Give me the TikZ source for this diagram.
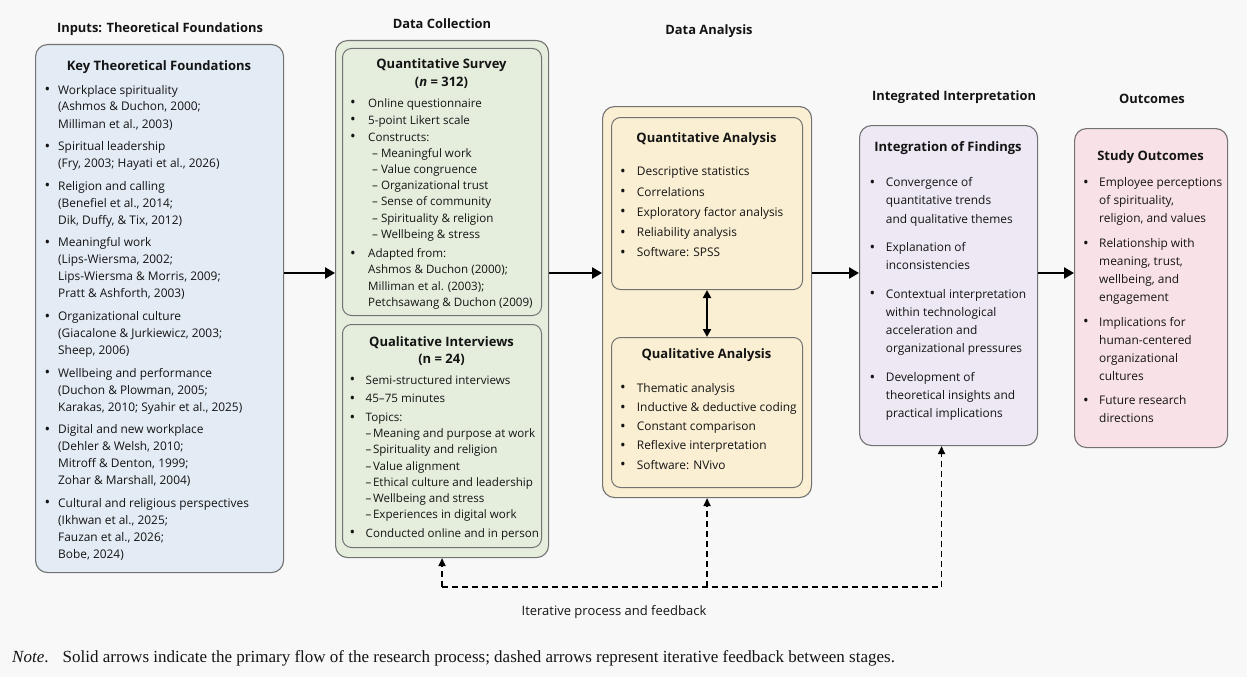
\documentclass[tikz,border=0pt]{standalone}
\usepackage{fontspec}
\setmainfont{Open Sans}
\newfontfamily\notefont{Liberation Serif}
\usetikzlibrary{arrows.meta}

\definecolor{pagebg}{HTML}{F8F8F8}
\definecolor{bluefill}{HTML}{E3EBF4}
\definecolor{greenfill}{HTML}{E5EEDD}
\definecolor{yellowfill}{HTML}{FBEFD3}
\definecolor{lavfill}{HTML}{EDE8F3}
\definecolor{pinkfill}{HTML}{F9E2E7}
\definecolor{edgegray}{HTML}{727272}
\definecolor{inktext}{HTML}{141414}

% bulleted paragraphs with a hanging indent
\newlength\lind
\newcommand\bulletmark{{\fontsize{15}{15}\selectfont\raisebox{-0.6pt}{\textbullet}}}
\newcommand\itm{\par\noindent\hangindent=\lind\hangafter=0\llap{\makebox[\lind][l]{\bulletmark}}}
% #1 font size, #2 indent, #3 line pitch, #4 gap between items, #5 items
\newcommand\blist[5]{\begin{minipage}[t]{240pt}\fontsize{#1}{#3}\selectfont\hyphenpenalty=10000\setlength\lind{#2}\setlength\parskip{#4}#5\end{minipage}}
\newcommand\sub{\hspace*{4pt}-- }
\newcommand\subb{--\hspace{1.5pt}}

\tikzset{
  panel/.style={draw=edgegray, line width=1.1pt, rounded corners=12pt, inner sep=0pt, anchor=north west},
  subpanel/.style={draw=edgegray, line width=1pt, rounded corners=9pt, inner sep=0pt, anchor=north west},
  header/.style={font=\bfseries\fontsize{12.9}{15}\selectfont, text=inktext, anchor=base, inner sep=0pt},
  boxtitle/.style={font=\bfseries\fontsize{13}{15}\selectfont, text=inktext, anchor=base, inner sep=0pt},
  listing/.style={anchor=base west, inner sep=0pt, text=inktext},
  flow/.style={line width=2.6pt, -{Triangle[length=10pt,width=11pt]}},
  twoway/.style={line width=2pt, {Triangle[length=8pt,width=8pt]}-{Triangle[length=8pt,width=8pt]}},
  feedback/.style={line width=1.6pt, dash pattern=on 6pt off 4pt},
  feedbackarrow/.style={feedback, -{Triangle[length=8pt,width=7pt]}}
}

\begin{document}
\begin{tikzpicture}[x=1pt,y=-1pt]
\useasboundingbox[fill=pagebg] (0,0) rectangle (1247,677);

% ---------- panels ----------
\node[panel, fill=bluefill, minimum width=248pt, minimum height=528pt] (found) at (35,44) {};
\node[panel, fill=greenfill, minimum width=213pt, minimum height=517pt] (coll) at (335,40) {};
\node[subpanel, fill=greenfill, minimum width=199pt, minimum height=267pt] (survey) at (342,48) {};
\node[subpanel, fill=greenfill, minimum width=199pt, minimum height=223pt] (interv) at (342,324) {};
\node[panel, fill=yellowfill, minimum width=209pt, minimum height=391pt] (anal) at (602,106) {};
\node[subpanel, fill=yellowfill, minimum width=191pt, minimum height=172pt] (quant) at (611,117) {};
\node[subpanel, fill=yellowfill, minimum width=191pt, minimum height=150pt] (qual) at (611,337) {};
\node[panel, fill=lavfill, minimum width=178pt, minimum height=320pt] (integ) at (859,125) {};
\node[panel, fill=pinkfill, minimum width=153pt, minimum height=319pt] (outc) at (1074,128) {};

% ---------- column headers ----------
\node[header] (h1) at (160,32.5) {Inputs: Theoretical Foundations};
\node[header] (h2) at (442,28.5) {Data Collection};
\node[header] (h3) at (709,35) {Data Analysis};
\node[header] (h4) at (954,100) {Integrated Interpretation};
\node[header] (h5) at (1152,103.3) {Outcomes};

% ---------- theoretical foundations ----------
\node[boxtitle] (t1) at (159,70.7) {Key Theoretical Foundations};
\node[listing] (l1) at (44.5,94) {\blist{11.9}{13.5pt}{17pt}{5.6pt}{%
\itm Workplace spirituality\\(Ashmos \& Duchon, 2000;\\Milliman et al., 2003)
\itm Spiritual leadership\\(Fry, 2003; Hayati et al., 2026)
\itm Religion and calling\\(Benefiel et al., 2014;\\Dik, Duffy, \& Tix, 2012)
\itm Meaningful work\\(Lips-Wiersma, 2002;\\Lips-Wiersma \& Morris, 2009;\\Pratt \& Ashforth, 2003)
\itm Organizational culture\\(Giacalone \& Jurkiewicz, 2003;\\Sheep, 2006)
\itm Wellbeing and performance\\(Duchon \& Plowman, 2005;\\Karakas, 2010; Syahir et al., 2025)
\itm Digital and new workplace\\(Dehler \& Welsh, 2010;\\Mitroff \& Denton, 1999;\\Zohar \& Marshall, 2004)
\itm Cultural and religious perspectives\\(Ikhwan et al., 2025;\\Fauzan et al., 2026;\\Bobe, 2024)}};

% ---------- data collection ----------
\node[boxtitle] (t2a) at (441.5,68.3) {Quantitative Survey};
\node[boxtitle] (t2b) at (441.5,86.5) {(\textit{n} = 312)};
\node[listing] (l2) at (350,107.3) {\blist{11.6}{18pt}{16.2pt}{0.7pt}{%
\itm Online questionnaire
\itm 5-point Likert scale
\itm Constructs:\\\sub Meaningful work\\\sub Value congruence\\\sub Organizational trust\\\sub Sense of community\\\sub Spirituality \& religion\\\sub Wellbeing \& stress
\par\vspace{2.5pt}
\itm Adapted from:\\Ashmos \& Duchon (2000);\\Milliman et al. (2003);\\Petchsawang \& Duchon (2009)}};

\node[boxtitle] (t3a) at (441.5,346) {Qualitative Interviews};
\node[boxtitle] (t3b) at (441.5,363) {(n = 24)};
\node[listing] (l3) at (349.5,384) {\blist{11.6}{16pt}{16.2pt}{2.5pt}{%
\itm Semi-structured interviews
\itm 45--75 minutes
\itm Topics:\\\subb Meaning and purpose at work\\\subb Spirituality and religion\\\subb Value alignment\\\subb Ethical culture and leadership\\\subb Wellbeing and stress\\\subb Experiences in digital work
\itm Conducted online and in person}};

% ---------- data analysis ----------
\node[boxtitle] (t4) at (706.5,142.3) {Quantitative Analysis};
\node[listing] (l4) at (620,175.7) {\blist{11.9}{16.7pt}{20.3pt}{0pt}{%
\itm Descriptive statistics
\itm Correlations
\itm Exploratory factor analysis
\itm Reliability analysis
\itm Software: SPSS}};

\node[boxtitle] (t5) at (706.5,358.3) {Qualitative Analysis};
\node[listing] (l5) at (620,392.3) {\blist{11.9}{16.7pt}{19.2pt}{0pt}{%
\itm Thematic analysis
\itm Inductive \& deductive coding
\itm Constant comparison
\itm Reflexive interpretation
\itm Software: NVivo}};

% ---------- integration ----------
\node[boxtitle] (t6) at (948,151.7) {Integration of Findings};
\node[listing] (l6) at (869.5,186.7) {\blist{11.9}{16.2pt}{18.2pt}{10.3pt}{%
\itm Convergence of\\quantitative trends\\and qualitative themes
\itm Explanation of\\inconsistencies
\itm Contextual interpretation\\within technological\\acceleration and\\organizational pressures
\itm Development of\\theoretical insights and\\practical implications}};

% ---------- outcomes ----------
\node[boxtitle] (t7) at (1150.5,160) {Study Outcomes};
\node[listing] (l7) at (1083,186.7) {\blist{11.9}{16pt}{18pt}{6.7pt}{%
\itm Employee perceptions\\of spirituality,\\religion, and values
\itm Relationship with\\meaning, trust,\\wellbeing, and\\engagement
\itm Implications for\\human-centered\\organizational\\cultures
\itm Future research\\directions}};

% ---------- primary flow ----------
\coordinate (flowline) at (0,273);
\draw[flow] (found.east |- flowline) -- (coll.west |- flowline);
\draw[flow] (coll.east |- flowline) -- (anal.west |- flowline);
\draw[flow] (anal.east |- flowline) -- (integ.west |- flowline);
\draw[flow] (integ.east |- flowline) -- (outc.west |- flowline);
\draw[twoway] (quant.south) -- (qual.north);

% ---------- iterative feedback ----------
\coordinate (fbline) at (0,587);
\coordinate (integfoot) at ([xshift=-7pt]integ.south);
\draw[feedback] (coll.south |- fbline) -- (integfoot |- fbline);
\draw[feedbackarrow] (coll.south |- fbline) -- (coll.south);
\draw[feedbackarrow] (anal.south |- fbline) -- (anal.south);
\draw[feedbackarrow] (integfoot |- fbline) -- (integfoot);
\node[anchor=base, inner sep=0pt, text=inktext, font=\fontsize{13}{15}\selectfont] (fblabel) at (614,615.5) {Iterative process and feedback};

% ---------- note ----------
\node[anchor=base west, inner sep=0pt, text=inktext, font=\notefont\fontsize{17}{19}\selectfont] (note) at (12,662) {\textit{Note}.\hspace{0.5em} Solid arrows indicate the primary flow of the research process; dashed arrows represent iterative feedback between stages.};
\end{tikzpicture}
\end{document}
